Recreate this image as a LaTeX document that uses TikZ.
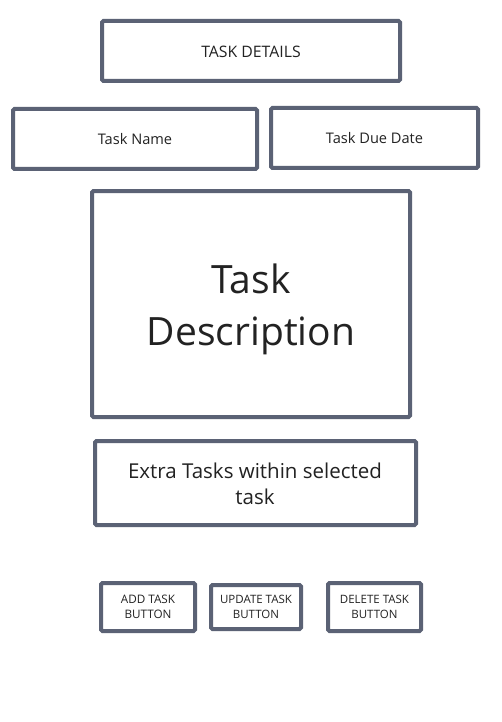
\documentclass[tikz,border=0pt]{standalone}
\usepackage{fontspec}
\setmainfont{Open Sans}
\definecolor{boxline}{HTML}{5B6275}
\definecolor{txt}{HTML}{222222}
\begin{document}
\begin{tikzpicture}[x=1pt,y=-1pt,
  wbox/.style={draw=boxline,line width=4pt,rounded corners=1.5pt,fill=white},
  lbl/.style={text=txt,align=center,inner sep=0pt}]
\useasboundingbox[fill=white] (0,0) rectangle (502,722);
\draw[wbox] (102,21) rectangle (400,81);
\node[lbl,font=\fontsize{15.8}{18}\selectfont] (details) at (251,52) {TASK DETAILS};
\draw[wbox] (13,109) rectangle (257,169);
\node[lbl,font=\fontsize{14.6}{17}\selectfont] (name) at (135,139) {Task Name};
\draw[wbox] (271,108) rectangle (478,168);
\node[lbl,font=\fontsize{14.6}{17}\selectfont] (due) at (374.5,138) {Task Due Date};
\draw[wbox] (92,191) rectangle (410,417);
\node[lbl,font=\fontsize{39}{52}\selectfont] (desc) at (251,309) {Task\\Description};
\draw[wbox] (95,441) rectangle (416,525);
\node[lbl,font=\fontsize{20.5}{26}\selectfont] (extra) at (255,484) {Extra Tasks within selected\\task};
\draw[wbox] (101,583) rectangle (195,631);
\node[lbl,font=\fontsize{11.7}{14.5}\selectfont] (add) at (148,607) {ADD TASK\\BUTTON};
\draw[wbox] (211,585) rectangle (301,629);
\node[lbl,font=\fontsize{11.5}{14.5}\selectfont] (upd) at (256,607) {UPDATE TASK\\BUTTON};
\draw[wbox] (328,583) rectangle (421,631);
\node[lbl,font=\fontsize{11.5}{14.5}\selectfont] (del) at (374.5,607) {DELETE TASK\\BUTTON};
\end{tikzpicture}
\end{document}
